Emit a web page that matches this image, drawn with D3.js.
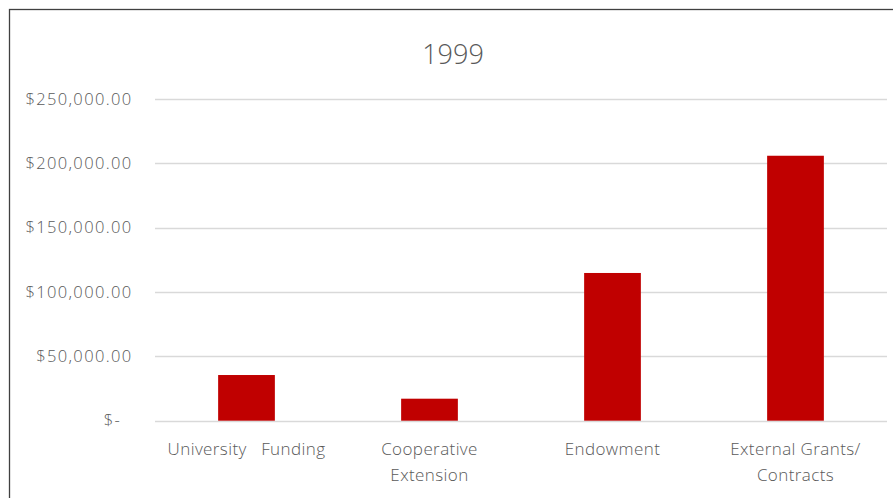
<!DOCTYPE html>
<html>
<head>
<meta charset="utf-8">
<script src="https://cdn.jsdelivr.net/npm/d3@7/dist/d3.min.js"></script>
<style>
  html, body { margin: 0; padding: 0; background: #fff; }
  svg { display: block; }
  text { font-family: "Open Sans", "Noto Sans", sans-serif; font-weight: 300; fill: #595959; }
</style>
</head>
<body>
<svg id="chart" width="893" height="498"></svg>
<script>
const title = "1999";
const categories = [["University\u00a0\u00a0 Funding"], ["Cooperative", "Extension"], ["Endowment"], ["External Grants/", "Contracts"]];
const values = [35500, 17100, 114800, 205900];
const yTicks = [0, 50000, 100000, 150000, 200000, 250000];

const W = 893, H = 498;
const svg = d3.select("#chart");

// chart frame
svg.append("rect")
  .attr("x", 9.5).attr("y", 9.5)
  .attr("width", W + 20).attr("height", H + 20)
  .attr("fill", "#fff").attr("stroke", "#404040").attr("stroke-width", 1.3);

const margin = { left: 155, right: 6, top: 99, bottom: 77 };
const x = d3.scaleBand()
  .domain(d3.range(categories.length))
  .range([margin.left, W - margin.right])
  .paddingInner(0.69).paddingOuter(0.345);
const y = d3.scaleLinear().domain([0, 250000]).range([H - margin.bottom - 0.3, margin.top]);

const fmt = v => v === 0 ? "$-\u00a0\u00a0" : "$" + d3.format(",.2f")(v);

// gridlines
svg.append("g")
  .selectAll("line").data(yTicks).join("line")
  .attr("x1", margin.left).attr("x2", W - margin.right)
  .attr("y1", d => Math.round(y(d)) + 0.5).attr("y2", d => Math.round(y(d)) + 0.5)
  .attr("stroke", "#d9d9d9").attr("stroke-width", 1.3);

// y axis
const yAxis = d3.axisLeft(y).tickValues(yTicks).tickFormat(fmt).tickSize(0).tickPadding(0);
const ya = svg.append("g").attr("transform", `translate(132.5,0)`).call(yAxis);
ya.select(".domain").remove();
ya.selectAll("text")
  .style("font-size", "16.5px")
  .style("font-family", '"Open Sans", sans-serif')
  .style("font-weight", 300)
  .style("letter-spacing", "1.35px")
  .attr("fill", "#595959")
  .attr("xml:space", "preserve");

// bars
svg.append("g")
  .selectAll("rect").data(values).join("rect")
  .attr("x", (d, i) => x(i))
  .attr("width", x.bandwidth())
  .attr("y", d => y(d))
  .attr("height", d => y(0) - y(d))
  .attr("fill", "#c00000");

// category labels
const xl = svg.append("g");
categories.forEach((lines, i) => {
  const cx = x(i) + x.bandwidth() / 2;
  const t = xl.append("text")
    .attr("x", cx)
    .attr("y", 455)
    .attr("text-anchor", "middle")
    .style("font-size", "17px")
    .style("letter-spacing", "0.4px");
  lines.forEach((ln, j) => {
    t.append("tspan").attr("x", cx).attr("dy", j === 0 ? 0 : 26).text(ln);
  });
});

// title
svg.append("text")
  .attr("x", 453).attr("y", 64)
  .attr("text-anchor", "middle")
  .style("font-size", "27px")
  .text(title);
</script>
</body>
</html>
